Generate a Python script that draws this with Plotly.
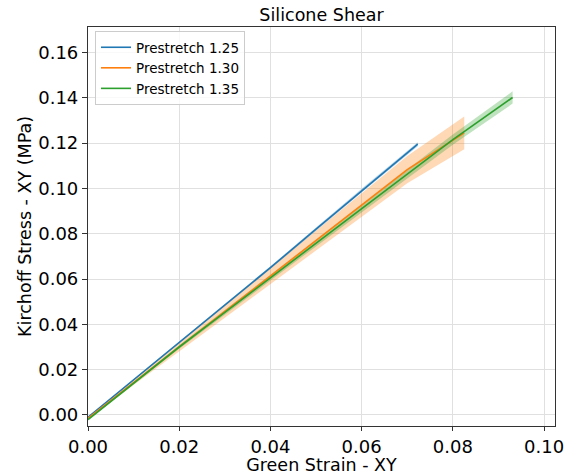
import plotly.graph_objects as go

# Data
series_names = ["Prestretch 1.25", "Prestretch 1.30", "Prestretch 1.35"]
colors = ["#1f77b4", "#ff7f0e", "#2ca02c"]
band_colors = ["rgba(31,119,180,0.3)", "rgba(255,127,14,0.3)", "rgba(44,160,44,0.3)"]

strain_125 = [0.0, 0.01, 0.02, 0.03, 0.04, 0.05, 0.06, 0.0723]
stress_125 = [-0.001, 0.0155, 0.0320, 0.0485, 0.0650, 0.0820, 0.0990, 0.1195]
spread_125 = [0.0002, 0.0003, 0.0004, 0.0005, 0.0006, 0.0007, 0.0008, 0.0009]

strain_130 = [0.0, 0.01, 0.02, 0.03, 0.04, 0.05, 0.06, 0.07, 0.0825]
stress_130 = [-0.0015, 0.0144, 0.0301, 0.0457, 0.0613, 0.0770, 0.0927, 0.1083, 0.1245]
spread_130 = [0.0005, 0.0012, 0.0020, 0.0028, 0.0036, 0.0044, 0.0052, 0.0060, 0.0072]

strain_135 = [0.0, 0.01, 0.02, 0.03, 0.04, 0.05, 0.06, 0.07, 0.08, 0.0931]
stress_135 = [-0.002, 0.0142, 0.0300, 0.0453, 0.0605, 0.0758, 0.0912, 0.1063, 0.1215, 0.1401]
spread_135 = [0.0004, 0.0006, 0.0008, 0.0010, 0.0012, 0.0014, 0.0017, 0.0020, 0.0023, 0.0027]

x_ticks = [0.00, 0.02, 0.04, 0.06, 0.08, 0.10]
y_ticks = [0.00, 0.02, 0.04, 0.06, 0.08, 0.10, 0.12, 0.14, 0.16]

all_x = [strain_125, strain_130, strain_135]
all_y = [stress_125, stress_130, stress_135]
all_s = [spread_125, spread_130, spread_135]

fig = go.Figure()
for name, xs, ys, ss, c, bc in zip(series_names, all_x, all_y, all_s, colors, band_colors):
    upper = [y + s for y, s in zip(ys, ss)]
    lower = [y - s for y, s in zip(ys, ss)]
    fig.add_trace(go.Scatter(
        x=xs + xs[::-1], y=upper + lower[::-1], fill="toself",
        fillcolor=bc, line=dict(width=0), mode="lines",
        showlegend=False, hoverinfo="skip"))
for name, xs, ys, c in zip(series_names, all_x, all_y, colors):
    fig.add_trace(go.Scatter(x=xs, y=ys, mode="lines", name=name,
                             line=dict(color=c, width=1.6)))

font = "DejaVu Sans, Arial, sans-serif"
fig.update_layout(
    width=572, height=475,
    margin=dict(l=88, r=17, t=27, b=49, autoexpand=False),
    paper_bgcolor="white", plot_bgcolor="white",
    font=dict(family=font, color="#000000"),
    title=dict(text="Silicone Shear", x=321.5 / 572, xanchor="center",
               y=1 - 14.5 / 475, yanchor="middle", font=dict(size=17.5)),
    legend=dict(x=0.015, y=0.99, xanchor="left", yanchor="top",
                bgcolor="rgba(255,255,255,0.8)", bordercolor="#cccccc",
                borderwidth=1, font=dict(size=13.5), tracegroupgap=0),
    showlegend=True,
)
fig.update_xaxes(
    range=[0.0, 0.1024], tickvals=x_ticks, tickformat=".2f",
    showgrid=True, gridcolor="#e0e0e0", gridwidth=1,
    showline=True, linecolor="#333333", linewidth=1.2, mirror=True,
    ticks="outside", ticklen=4, tickcolor="#333333",
    tickfont=dict(size=18), zeroline=False, automargin=False,
    title=dict(text="Green Strain - XY", font=dict(size=17.5), standoff=6),
)
fig.update_yaxes(
    range=[-0.00486, 0.1712], tickvals=y_ticks, tickformat=".2f",
    showgrid=True, gridcolor="#e0e0e0", gridwidth=1,
    showline=True, linecolor="#333333", linewidth=1.2, mirror=True,
    ticks="outside", ticklen=5, tickcolor="#333333",
    tickfont=dict(size=18), zeroline=False, automargin=False,
    title=dict(text="Kirchoff Stress - XY (MPa)", font=dict(size=17.5), standoff=2),
)
fig.write_html("out.html", config={"displayModeBar": False},
               post_script="document.body.style.margin='0';")
